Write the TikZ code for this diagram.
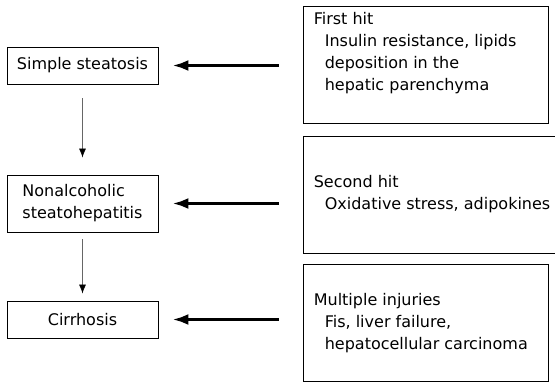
\documentclass[tikz,border=0pt]{standalone}
\usepackage{fontspec}
\setmainfont{DejaVu Sans}
\usetikzlibrary{positioning,arrows.meta}
\tikzset{
    on grid,
    stage/.style = {
        draw,
        shape=rectangle,
        minimum width=151pt,
        minimum height=37pt,
        line width=0.8pt,
        align=left,
        font=\fontsize{16pt}{22pt}\selectfont
    },
    hitbox/.style = {
        draw,
        shape=rectangle,
        minimum width=245pt,
        minimum height=117pt,
        line width=0.8pt
    },
    hittext/.style = {
        align=left,
        inner sep=0pt,
        font=\fontsize{16pt}{22pt}\selectfont
    },
    hitarrow/.style = {
        -{Latex[length=16pt,width=11pt]},
        line width=3pt
    },
    flow/.style = {
        -{Latex[length=9pt,width=7pt,color=black]},
        draw=black!60,
        line width=0.8pt
    },
}
\newcommand{\hitindent}{\hspace*{11pt}}

\begin{document}
\begin{tikzpicture}[x=1pt,y=-1pt]
        \useasboundingbox (0,0) rectangle (555,382);

        \node[stage] (simple) at (82.5,65.5) {Simple steatosis};
        \node[stage, minimum height=57pt, below=138pt of simple] (nash) {Nonalcoholic\\steatohepatitis};
        \node[stage, below=116pt of nash] (cirrhosis) {Cirrhosis};

        \node[hitbox] (first) at (425.5,64.5) {};
        \node[hitbox, minimum width=255pt] (second) at (430.5,194.5) {};
        \node[hitbox] (multi) at (425.5,323) {};

        \node[hittext, anchor=north west] (firsttext) at ([shift={(11pt,-7pt)}]first.north west)
            {First hit\\\hitindent Insulin resistance, lipids\\\hitindent deposition in the\\\hitindent hepatic parenchyma};
        \node[hittext, anchor=west] (secondtext) at ([xshift=11pt]second.west)
            {Second hit\\\hitindent Oxidative stress, adipokines};
        \node[hittext, anchor=west] (multitext) at ([xshift=11pt]multi.west)
            {Multiple injuries\\\hitindent Fis, liver failure,\\\hitindent hepatocellular carcinoma};

        \draw[flow, shorten <=14pt, shorten >=17pt] (simple) -- (nash);
        \draw[flow, shorten <=7pt, shorten >=7pt] (nash) -- (cirrhosis);

        \draw[hitarrow, shorten <=24pt, shorten >=14pt] (simple.east -| first.west) -- (simple.east);
        \draw[hitarrow, shorten <=24pt, shorten >=14pt] (nash.east -| second.west) -- (nash.east);
        \draw[hitarrow, shorten <=24pt, shorten >=14pt] (cirrhosis.east -| multi.west) -- (cirrhosis.east);
    \end{tikzpicture}
\end{document}
